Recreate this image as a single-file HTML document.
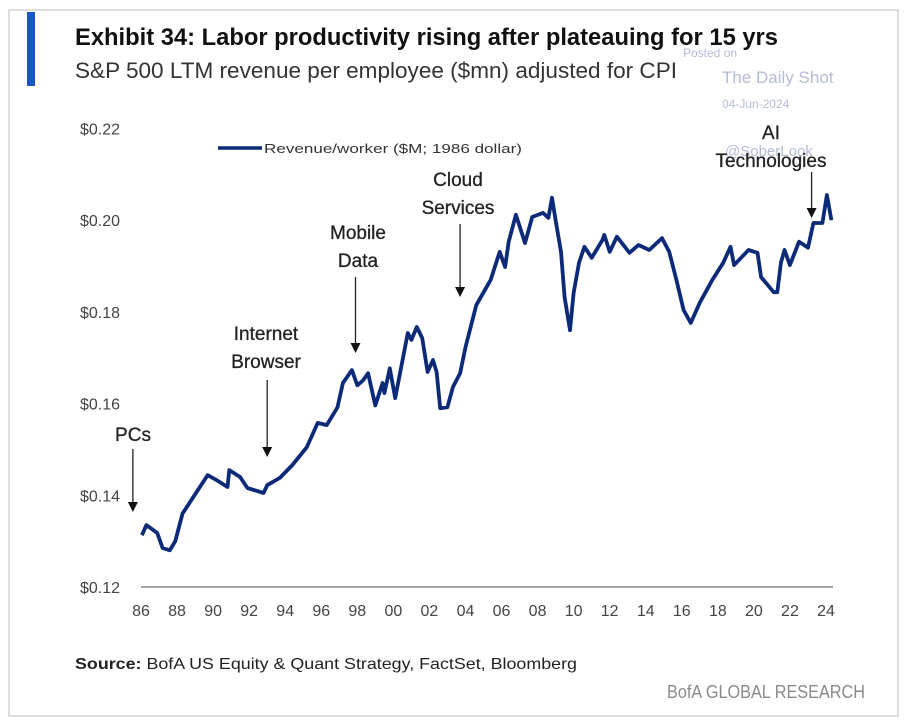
<!DOCTYPE html>
<html><head><meta charset="utf-8"><style>
html,body{margin:0;padding:0;background:#fff;}
svg{display:block;font-family:"Liberation Sans",sans-serif;}
</style></head><body>
<svg id="chart" width="908" height="726" viewBox="0 0 908 726">
<rect x="9" y="10" width="889" height="706" fill="#fff" stroke="#c8c8c8" stroke-width="1.2"/>
<rect x="27" y="12" width="8" height="74" fill="#1a56c8"/>
<text x="75" y="45" font-size="24" font-weight="bold" fill="#111" textLength="703" lengthAdjust="spacingAndGlyphs">Exhibit 34: Labor productivity rising after plateauing for 15 yrs</text>
<text x="75" y="78" font-size="22" fill="#333" textLength="602" lengthAdjust="spacingAndGlyphs">S&amp;P 500 LTM revenue per employee ($mn) adjusted for CPI</text>
<g fill="#b4bcd6">
<text x="683" y="57" font-size="12">Posted on</text>
<text x="722" y="83" font-size="17">The Daily Shot</text>
<text x="722" y="108" font-size="12">04-Jun-2024</text>
<text x="725" y="156" font-size="15">@SoberLook</text>
</g>
<g>
<line x1="218" y1="148" x2="262" y2="148" stroke="#0d2a78" stroke-width="3.5"/>
<text x="264" y="153" font-size="13" fill="#333" textLength="258" lengthAdjust="spacingAndGlyphs">Revenue/worker ($M; 1986 dollar)</text>
</g>
<g id="yaxis"></g>
<g id="xaxis"></g>
<path id="series" fill="none" stroke="#0d2a78" stroke-width="3.8" stroke-linejoin="round"/>
<g id="annots"></g>
<text x="75" y="669" font-size="16" fill="#222" textLength="502" lengthAdjust="spacingAndGlyphs"><tspan font-weight="bold">Source:</tspan> BofA US Equity &amp; Quant Strategy, FactSet, Bloomberg</text>
<text x="667" y="698" font-size="18" fill="#8a8a8a" textLength="198" lengthAdjust="spacingAndGlyphs">BofA GLOBAL RESEARCH</text>
</svg>
<script>
const years=[1986.05,1986.3,1986.9,1987.2,1987.6,1987.9,1988.3,1988.9,1989.7,1990.2,1990.8,1990.9,1991.5,1991.9,1992.8,1993.0,1993.7,1994.4,1995.2,1995.8,1996.3,1996.9,1997.2,1997.7,1998.0,1998.3,1998.6,1999.0,1999.4,1999.5,1999.8,2000.1,2000.8,2001.0,2001.3,2001.6,2001.9,2002.2,2002.4,2002.6,2003.0,2003.3,2003.7,2004.0,2004.6,2005.4,2005.9,2006.2,2006.4,2006.8,2007.3,2007.7,2008.3,2008.6,2008.8,2009.0,2009.3,2009.5,2009.8,2010.0,2010.3,2010.6,2011.0,2011.6,2011.7,2012.0,2012.4,2013.1,2013.6,2014.2,2014.9,2015.3,2015.7,2016.1,2016.5,2017.0,2017.7,2018.3,2018.7,2018.9,2019.7,2020.2,2020.4,2021.1,2021.3,2021.5,2021.7,2022.0,2022.5,2023.0,2023.3,2023.8,2024.05,2024.3];
const values=[0.1313,0.1335,0.1318,0.1285,0.128,0.130,0.136,0.1396,0.1444,0.1433,0.1418,0.1455,0.144,0.1416,0.1405,0.1422,0.1438,0.1466,0.1505,0.1558,0.1553,0.1592,0.1645,0.1673,0.164,0.165,0.1666,0.1596,0.1645,0.1623,0.1677,0.1612,0.1754,0.1739,0.1767,0.1743,0.1669,0.1695,0.1669,0.159,0.1592,0.1636,0.1666,0.1723,0.1815,0.187,0.1931,0.1898,0.1953,0.2012,0.195,0.2007,0.2016,0.2005,0.2049,0.200,0.1931,0.1832,0.176,0.1841,0.1907,0.1942,0.1918,0.1957,0.1968,0.1931,0.1964,0.1929,0.1946,0.1935,0.1961,0.1931,0.187,0.1804,0.1776,0.182,0.187,0.1907,0.1942,0.1902,0.1935,0.1929,0.1876,0.1843,0.1843,0.1907,0.1935,0.1902,0.1953,0.194,0.1994,0.1994,0.2055,0.200];
const yTicks=[0.12,0.14,0.16,0.18,0.20,0.22];
const yTickLabels=["$0.12","$0.14","$0.16","$0.18","$0.20","$0.22"];
const xTicks=[1986,1988,1990,1992,1994,1996,1998,2000,2002,2004,2006,2008,2010,2012,2014,2016,2018,2020,2022,2024];
const xTickLabels=["86","88","90","92","94","96","98","00","02","04","06","08","10","12","14","16","18","20","22","24"];
const annotLabels=[["PCs"],["Internet","Browser"],["Mobile","Data"],["Cloud","Services"],["AI","Technologies"]];
const annotYears=[1985.55,1993.0,1997.9,2003.7,2023.2];

const NS="http://www.w3.org/2000/svg";
function xs(y){return 141+(y-1986)*(685/38);}
function ys(v){return 587-(v-0.12)*(91.7/0.02);}
function mk(tag,attrs,parent){const e=document.createElementNS(NS,tag);for(const k in attrs)e.setAttribute(k,attrs[k]);parent.appendChild(e);return e;}

const ya=document.getElementById('yaxis');
yTicks.forEach((t,i)=>{
  const tx=mk('text',{x:80,y:ys(t)+6,'font-size':16,fill:'#444'},ya);
  
  
  tx.textContent=yTickLabels[i];
});
const xa=document.getElementById('xaxis');
const axl=mk('line',{x1:141,y1:587,x2:833,y2:587,stroke:'#888','stroke-width':1.5},xa);


xTicks.forEach((t,i)=>{
  const tx=mk('text',{x:xs(t),y:616,'font-size':16,fill:'#444','text-anchor':'middle'},xa);
  
  
  tx.textContent=xTickLabels[i];
});
document.getElementById('series').setAttribute('d',years.map((y,i)=>(i?'L':'M')+xs(y).toFixed(1)+' '+ys(values[i]).toFixed(1)).join(' '));

const annotLayout=[{ly:[441],a1:449,a2:512},{ly:[340,368],a1:380,a2:457},{ly:[239,267],a1:277,a2:353},{ly:[186,214],a1:224,a2:297},{ly:[139,167],a1:172,a2:218}];
const labelX=[133,266,358,458,771];
const an=document.getElementById('annots');
annotYears.forEach((yr,i)=>{
  const L=annotLayout[i];
  const g=mk('g',{},an);
  
  
  annotLabels[i].forEach((s,j)=>{
    const t=mk('text',{x:labelX[i],y:L.ly[j],'font-size':19,fill:'#222','text-anchor':'middle',stroke:'#222','stroke-width':0.3},g);
    t.textContent=s;
  });
  const ax=xs(yr);
  mk('line',{x1:ax,y1:L.a1,x2:ax,y2:L.a2-8,stroke:'#222','stroke-width':1.3},g);
  mk('path',{d:`M${ax-5} ${L.a2-10} L${ax+5} ${L.a2-10} L${ax} ${L.a2} Z`,fill:'#111'},g);
});
</script>
</body></html>
